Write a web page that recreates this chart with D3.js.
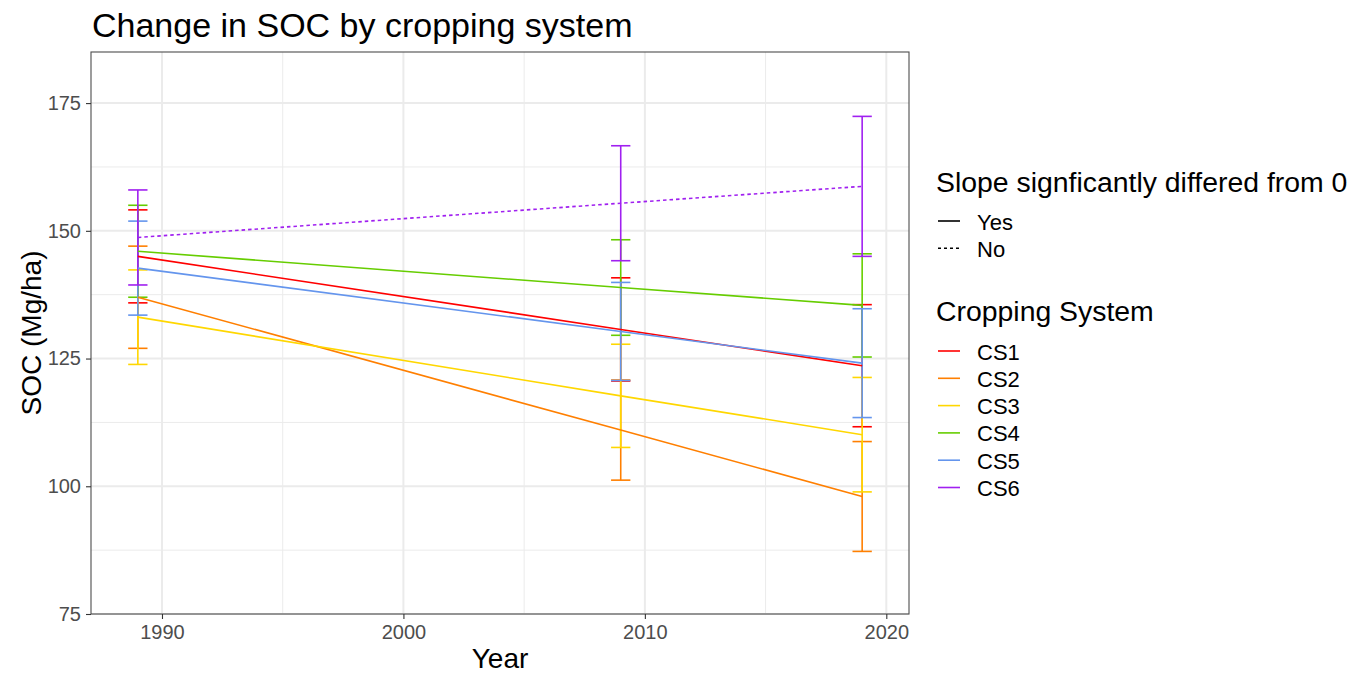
<!DOCTYPE html>
<html>
<head>
<meta charset="utf-8">
<script src="https://cdn.jsdelivr.net/npm/d3@7"></script>
<style>
  body { margin: 0; background: #fff; }
  text { font-family: "Liberation Sans", Arial, sans-serif; }
</style>
</head>
<body>
<div id="viz"></div>
<script>
var years = [1989, 2009, 2019];
var systems = ["CS1", "CS2", "CS3", "CS4", "CS5", "CS6"];
var significant = ["Yes", "Yes", "Yes", "Yes", "Yes", "No"];
var colors = ["#FF0000", "#FF7F00", "#FFD700", "#66CD00", "#6495ED", "#A020F0"];

var cs1Mean = [145.0, 130.7, 123.6];
var cs2Mean = [137.0, 111.0, 98.0];
var cs3Mean = [133.1, 117.7, 110.1];
var cs4Mean = [146.0, 138.9, 135.4];
var cs5Mean = [142.7, 130.3, 124.1];
var cs6Mean = [148.7, 155.4, 158.7];

var cs1Se = [9.1, 10.1, 11.95];
var cs2Se = [10.0, 9.8, 10.75];
var cs3Se = [9.25, 10.1, 11.2];
var cs4Se = [9.0, 9.35, 10.1];
var cs5Se = [9.2, 9.6, 10.65];
var cs6Se = [9.3, 11.25, 13.7];

var xTicks = [1990, 2000, 2010, 2020];
var xMinor = [1995, 2005, 2015];
var yTicks = [75, 100, 125, 150, 175];
var yMinor = [87.5, 112.5, 137.5, 162.5];

var means = [cs1Mean, cs2Mean, cs3Mean, cs4Mean, cs5Mean, cs6Mean];
var ses = [cs1Se, cs2Se, cs3Se, cs4Se, cs5Se, cs6Se];

var series = systems.map(function (s, i) {
  return {
    name: s, color: colors[i], sig: significant[i],
    points: years.map(function (y, j) { return { year: y, mean: means[i][j], se: ses[i][j] }; })
  };
});

var W = 1354, H = 675;
var pLeft = 91, pRight = 909, pTop = 52, pBottom = 614;

var svg = d3.select("#viz").append("svg")
  .attr("width", W)
  .attr("height", H);

var x = d3.scaleLinear().domain([1987.06, 2020.94]).range([pLeft, pRight]);
var y = d3.scaleLinear().domain([75, 185]).range([pBottom, pTop]);

// grid
var grid = svg.append("g");
grid.selectAll("line.xmin").data(xMinor).enter().append("line")
  .attr("x1", function (d) { return x(d); }).attr("x2", function (d) { return x(d); })
  .attr("y1", pTop).attr("y2", pBottom)
  .attr("stroke", "#EBEBEB").attr("stroke-width", 1);
grid.selectAll("line.ymin").data(yMinor).enter().append("line")
  .attr("y1", function (d) { return y(d); }).attr("y2", function (d) { return y(d); })
  .attr("x1", pLeft).attr("x2", pRight)
  .attr("stroke", "#EBEBEB").attr("stroke-width", 1);
grid.selectAll("line.xmaj").data(xTicks).enter().append("line")
  .attr("x1", function (d) { return x(d); }).attr("x2", function (d) { return x(d); })
  .attr("y1", pTop).attr("y2", pBottom)
  .attr("stroke", "#EBEBEB").attr("stroke-width", 2);
grid.selectAll("line.ymaj").data(yTicks).enter().append("line")
  .attr("y1", function (d) { return y(d); }).attr("y2", function (d) { return y(d); })
  .attr("x1", pLeft).attr("x2", pRight)
  .attr("stroke", "#EBEBEB").attr("stroke-width", 2);

// error bars
var bars = svg.append("g");
series.forEach(function (s) {
  var g = bars.append("g").attr("stroke", s.color).attr("stroke-width", 1.6).attr("fill", "none");
  g.selectAll("line.v").data(s.points).enter().append("line")
    .attr("x1", function (d) { return x(d.year); }).attr("x2", function (d) { return x(d.year); })
    .attr("y1", function (d) { return y(d.mean - d.se); }).attr("y2", function (d) { return y(d.mean + d.se); });
  g.selectAll("line.t").data(s.points).enter().append("line")
    .attr("x1", function (d) { return x(d.year - 0.4); }).attr("x2", function (d) { return x(d.year + 0.4); })
    .attr("y1", function (d) { return y(d.mean + d.se); }).attr("y2", function (d) { return y(d.mean + d.se); });
  g.selectAll("line.b").data(s.points).enter().append("line")
    .attr("x1", function (d) { return x(d.year - 0.4); }).attr("x2", function (d) { return x(d.year + 0.4); })
    .attr("y1", function (d) { return y(d.mean - d.se); }).attr("y2", function (d) { return y(d.mean - d.se); });
});

// trend lines
var line = d3.line()
  .x(function (d) { return x(d.year); })
  .y(function (d) { return y(d.mean); });

svg.append("g").selectAll("path").data(series).enter().append("path")
  .attr("d", function (d) { return line(d.points); })
  .attr("fill", "none")
  .attr("stroke", function (d) { return d.color; })
  .attr("stroke-width", 1.6)
  .attr("stroke-dasharray", function (d) { return d.sig == "No" ? "3.5,3" : null; });

// panel border
svg.append("rect")
  .attr("x", pLeft).attr("y", pTop)
  .attr("width", pRight - pLeft).attr("height", pBottom - pTop)
  .attr("fill", "none").attr("stroke", "#4d4d4d").attr("stroke-width", 1.1);

// axes
var xAxis = svg.append("g")
  .attr("transform", "translate(0," + pBottom + ")")
  .call(d3.axisBottom(x).tickValues(xTicks).tickFormat(d3.format("d")).tickSize(5).tickPadding(6));
var yAxis = svg.append("g")
  .attr("transform", "translate(" + pLeft + ",0)")
  .call(d3.axisLeft(y).tickValues(yTicks).tickSize(5).tickPadding(5));

[xAxis, yAxis].forEach(function (a) {
  a.select(".domain").remove();
  a.selectAll(".tick line").attr("stroke", "#333").attr("stroke-width", 1.1);
  a.selectAll(".tick text").attr("fill", "#4D4D4D").style("font-size", "20px")
    .style("font-family", "'Liberation Sans', Arial, sans-serif");
});

// titles
svg.append("text")
  .attr("x", 92).attr("y", 37)
  .style("font-size", "34px")
  .text("Change in SOC by cropping system");

svg.append("text")
  .attr("x", (pLeft + pRight) / 2).attr("y", 668)
  .attr("text-anchor", "middle")
  .style("font-size", "28px")
  .text("Year");

svg.append("text")
  .attr("transform", "translate(41," + ((pTop + pBottom) / 2) + ") rotate(-90)")
  .attr("text-anchor", "middle")
  .style("font-size", "28px")
  .text("SOC (Mg/ha)");

// legends
var lg = svg.append("g");
lg.append("text").attr("x", 936).attr("y", 192).style("font-size", "28.4px")
  .text("Slope signficantly differed from 0");

var slopeKeys = [{ label: "Yes", dash: null }, { label: "No", dash: "3,3" }];
slopeKeys.forEach(function (k, i) {
  var ky = 221 + i * 27.3;
  lg.append("line").attr("x1", 938).attr("x2", 960).attr("y1", ky).attr("y2", ky)
    .attr("stroke", "#000").attr("stroke-width", 1.6).attr("stroke-dasharray", k.dash);
  lg.append("text").attr("x", 977).attr("y", ky + 8.5).style("font-size", "22px").text(k.label);
});

lg.append("text").attr("x", 936).attr("y", 321).style("font-size", "28.4px")
  .text("Cropping System");

series.forEach(function (s, i) {
  var ky = 351 + i * 27.3;
  lg.append("line").attr("x1", 938).attr("x2", 960).attr("y1", ky).attr("y2", ky)
    .attr("stroke", s.color).attr("stroke-width", 1.6);
  lg.append("text").attr("x", 977).attr("y", ky + 8.5).style("font-size", "22px").text(s.name);
});
</script>
</body>
</html>
